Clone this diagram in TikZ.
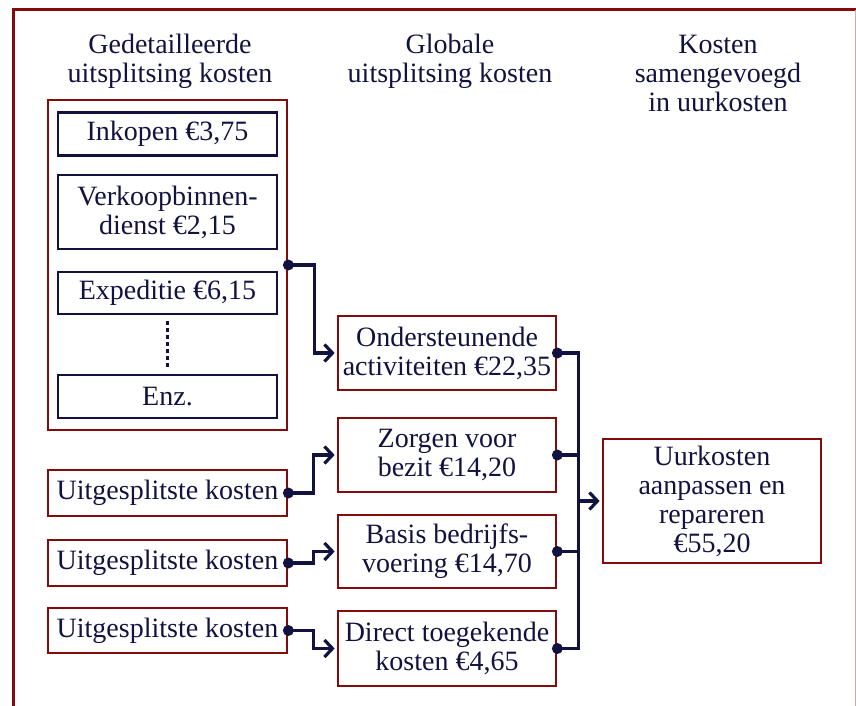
\documentclass[tikz,border=0pt]{standalone}
\usepackage{fontspec}
\setmainfont{Liberation Serif}
\usetikzlibrary{arrows.meta}
\definecolor{navy}{RGB}{18,18,64}
\definecolor{dred}{RGB}{130,12,12}
\definecolor{fpink}{RGB}{210,170,170}
\begin{document}
\begin{tikzpicture}[x=1pt,y=-1pt,
  every node/.style={font=\fontsize{28}{29}\selectfont, text=navy, align=center, inner sep=0pt},
  redbox/.style={draw=dred, line width=2.7pt},
  navybox/.style={draw=navy, line width=2.7pt, minimum width=219pt},
  conn/.style={draw=navy, line width=3.2pt},
  arr/.style={conn, -{Straight Barb[length=8pt,width=17pt]}, shorten >=2pt},
  dotc/.style={fill=navy}]
\useasboundingbox (0,0) rectangle (856,706);
% outer frame
\draw[dred, line width=3pt] (13,706) -- (13,10) -- (856,10);
\draw[fpink, line width=1pt] (855,10) -- (855,706);
% titles
\node (t1) at (170,61) {Gedetailleerde\\uitsplitsing kosten};
\node (t2) at (450,61) {Globale\\uitsplitsing kosten};
\node (t3) at (718,73) {Kosten\\samengevoegd\\in uurkosten};
% group
\node[redbox, minimum width=239pt, minimum height=330pt] (group) at (167.5,265) {};
\node[navybox, minimum height=43pt] (ink) at (167.5,134) {Inkopen €3,75};
\node[navybox, minimum height=74pt] (verk) at (167.5,212) {Verkoopbinnen-\\dienst €2,15};
\node[navybox, minimum height=42pt] (exp) at (167.5,293) {Expeditie €6,15};
\node[navybox, minimum height=43pt] (enz) at (167.5,396.5) {Enz.};
\draw[navy, line width=2.5pt, dash pattern=on 4pt off 3pt, shorten <=6pt, shorten >=5pt] (exp.south) -- (enz.north);
% split costs
\node[redbox, minimum width=239pt, minimum height=46pt] (u1) at (167.5,493) {Uitgesplitste kosten};
\node[redbox, minimum width=239pt, minimum height=46pt] (u2) at (167.5,563) {Uitgesplitste kosten};
\node[redbox, minimum width=239pt, minimum height=45pt] (u3) at (167.5,630.5) {Uitgesplitste kosten};
% global
\node[redbox, minimum width=218pt, minimum height=74pt] (ond) at (447,353) {Ondersteunende\\activiteiten €22,35};
\node[redbox, minimum width=218pt, minimum height=74pt] (zorg) at (447,455) {Zorgen voor\\bezit €14,20};
\node[redbox, minimum width=218pt, minimum height=73pt] (bas) at (447,551.5) {Basis bedrijfs-\\voering €14,70};
\node[redbox, minimum width=218pt, minimum height=75pt] (dir) at (447,648.5) {Direct toegekende\\kosten €4,65};
% total
\node[redbox, minimum width=218pt, minimum height=124pt] (uur) at (712,501) {Uurkosten\\aanpassen en\\repareren\\€55,20};
% connectors
\draw[arr] (group.east) -- ++(26,0) |- (ond.west);
\draw[arr] (u1.east) -- ++(25,0) |- (zorg.west);
\draw[arr] (u2.east) -- ++(25,0) |- (bas.west);
\draw[arr] (u3.east) -- ++(25,0) |- (dir.west);
\draw[conn] (ond.east) -- ++(21,0) coordinate (bt) -- (bt |- dir.east) -- (dir.east);
\draw[conn] (zorg.east) -- (bt |- zorg.east);
\draw[conn] (bas.east) -- (bt |- bas.east);
\draw[arr] (bt |- uur.west) -- (uur.west);
% dots
\foreach \n in {group,u1,u2,u3,ond,zorg,bas,dir}
  \fill[dotc] (\n.east) circle (5.5pt);
\end{tikzpicture}
\end{document}
